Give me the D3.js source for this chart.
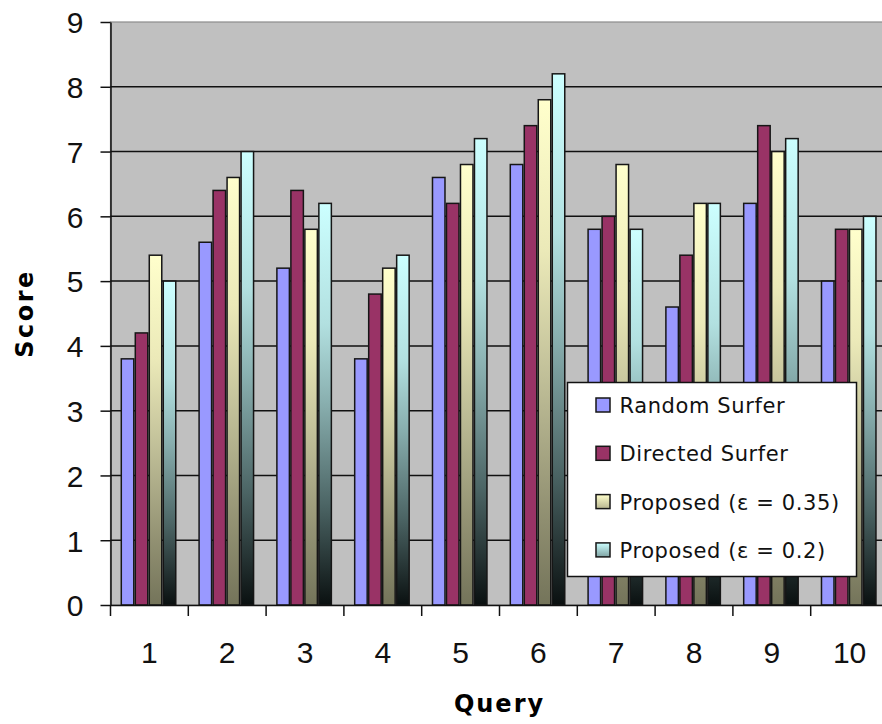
<!DOCTYPE html>
<html>
<head>
<meta charset="utf-8">
<script src="https://cdn.jsdelivr.net/npm/d3@7"></script>
<style>
  html, body { margin: 0; padding: 0; background: #fff; }
  svg { display: block; }
</style>
</head>
<body>
<svg id="chart" width="882" height="724"></svg>
<script>
// Scores per query for each ranking method
const queries = ["1", "2", "3", "4", "5", "6", "7", "8", "9", "10"];
const seriesNames = ["Random Surfer", "Directed Surfer", "Proposed (ε = 0.35)", "Proposed (ε = 0.2)"];
const randomSurfer   = [3.8, 5.6, 5.2, 3.8, 6.6, 6.8, 5.8, 4.6, 6.2, 5.0];
const directedSurfer = [4.2, 6.4, 6.4, 4.8, 6.2, 7.4, 6.0, 5.4, 7.4, 5.8];
const proposed035    = [5.4, 6.6, 5.8, 5.2, 6.8, 7.8, 6.8, 6.2, 7.0, 5.8];
const proposed02     = [5.0, 7.0, 6.2, 5.4, 7.2, 8.2, 5.8, 6.2, 7.2, 6.0];
const yTicks = [0, 1, 2, 3, 4, 5, 6, 7, 8, 9];

const seriesValues = [randomSurfer, directedSurfer, proposed035, proposed02];
const table = queries.map((q, i) => ({
  query: q,
  values: seriesNames.map((s, k) => ({ series: s, key: k, value: seriesValues[k][i] }))
}));

const svg = d3.select("#chart");
const plot = { left: 110.5, right: 888.5, top: 22, bottom: 605 };

const x0 = d3.scaleBand().domain(queries).range([plot.left, plot.right]).padding(0);
const x1 = d3.scaleBand().domain(d3.range(seriesNames.length))
  .range([0, x0.bandwidth()]).paddingInner(0).paddingOuter(0.78).align(0.46);
const y = d3.scaleLinear().domain([0, 9]).range([plot.bottom, plot.top]);

// Fill definitions: two solid fills and two vertical shaded fills
const defs = svg.append("defs");
function shade(id, stops) {
  const g = defs.append("linearGradient").attr("id", id)
    .attr("x1", 0).attr("y1", 0).attr("x2", 0).attr("y2", 1);
  stops.forEach(([o, c]) => g.append("stop").attr("offset", o).attr("stop-color", c));
}
shade("gYellow", [[0, "#FFFFCC"], [0.3, "#EBE9B8"], [0.55, "#C0BF98"], [0.8, "#949374"], [1, "#74745A"]]);
shade("gCyan", [[0, "#CCFFFF"], [0.3, "#B2E0E0"], [0.5, "#88AEAE"], [0.75, "#4C6565"], [1, "#0A1010"]]);
shade("gYellowKey", [[0, "#FFFFCC"], [1, "#B8B690"]]);
shade("gCyanKey", [[0, "#CCFFFF"], [1, "#7FA3A3"]]);
const fills = ["#9999FF", "#993366", "url(#gYellow)", "url(#gCyan)"];
const keyFills = ["#9999FF", "#993366", "url(#gYellowKey)", "url(#gCyanKey)"];

// Plot area
svg.append("rect")
  .attr("x", plot.left).attr("y", plot.top)
  .attr("width", plot.right - plot.left).attr("height", plot.bottom - plot.top)
  .attr("fill", "#C0C0C0").attr("stroke", "#8c8c8c").attr("stroke-width", 1.2);

// Gridlines
svg.append("g").selectAll("line")
  .data(yTicks.filter(t => t > 0 && t < 9))
  .join("line")
  .attr("x1", plot.left).attr("x2", plot.right)
  .attr("y1", d => y(d)).attr("y2", d => y(d))
  .attr("stroke", "#111").attr("stroke-width", 1.5);

// Bars
const sw = 1.5;
const groups = svg.append("g").selectAll("g")
  .data(table).join("g")
  .attr("transform", d => `translate(${x0(d.query)},0)`);
groups.selectAll("rect")
  .data(d => d.values).join("rect")
  .attr("x", d => x1(d.key) + sw / 2)
  .attr("width", x1.bandwidth() - sw)
  .attr("y", d => y(d.value))
  .attr("height", d => y(0) - y(d.value))
  .attr("fill", d => fills[d.key])
  .attr("stroke", "#161616").attr("stroke-width", sw);

// Axes
const font = "'Liberation Sans', Arial, sans-serif";
const yAxis = svg.append("g").attr("transform", `translate(${plot.left},0)`)
  .call(d3.axisLeft(y).tickValues(yTicks).tickFormat(d3.format("d")).tickSize(10).tickSizeOuter(0));
yAxis.select(".domain").attr("stroke", "#111").attr("stroke-width", 1.5);
yAxis.selectAll(".tick line").attr("stroke", "#111").attr("stroke-width", 1.5);
yAxis.selectAll(".tick text")
  .attr("x", -27).attr("dy", "0.36em")
  .style("font-family", font).style("font-size", "30px").attr("fill", "#111");

const xAxis = svg.append("g").attr("transform", `translate(0,${plot.bottom})`)
  .call(d3.axisBottom(x0).tickSize(0).tickSizeOuter(0));
xAxis.select(".domain").attr("stroke", "#111").attr("stroke-width", 1.5);
xAxis.selectAll(".tick line").remove();
xAxis.selectAll(".tick text")
  .attr("y", 58).attr("dy", 0)
  .style("font-family", font).style("font-size", "30px").attr("fill", "#111");
// Category separator ticks
svg.append("g").selectAll("line")
  .data(queries.slice(1))
  .join("line")
  .attr("x1", d => x0(d)).attr("x2", d => x0(d))
  .attr("y1", plot.bottom).attr("y2", plot.bottom + 11)
  .attr("stroke", "#111").attr("stroke-width", 1.5);
svg.append("line")
  .attr("x1", plot.left).attr("x2", plot.left)
  .attr("y1", plot.bottom).attr("y2", plot.bottom + 11)
  .attr("stroke", "#111").attr("stroke-width", 1.5);

// Axis titles
const titleFont = "'DejaVu Sans', Verdana, sans-serif";
svg.append("text")
  .attr("x", (plot.left + plot.right) / 2).attr("y", 712)
  .attr("text-anchor", "middle")
  .style("font-family", titleFont).style("font-size", "24px").style("font-weight", "bold")
  .style("letter-spacing", "2px")
  .text("Query");
svg.append("text")
  .attr("transform", `translate(33,${(plot.top + plot.bottom) / 2}) rotate(-90)`)
  .attr("text-anchor", "middle")
  .style("font-family", titleFont).style("font-size", "24px").style("font-weight", "bold")
  .style("letter-spacing", "2.5px")
  .text("Score");

// Legend
const legend = svg.append("g").attr("transform", "translate(567.5,382.5)");
legend.append("rect")
  .attr("width", 289).attr("height", 194)
  .attr("fill", "#fff").attr("stroke", "#111").attr("stroke-width", 1.5);
const rows = legend.selectAll("g.row")
  .data(seriesNames).join("g").attr("class", "row")
  .attr("transform", (d, i) => `translate(0,${23 + i * 48.3})`);
rows.append("rect")
  .attr("x", 28.5).attr("y", -7.5).attr("width", 14).attr("height", 14)
  .attr("fill", (d, i) => keyFills[i])
  .attr("stroke", "#161616").attr("stroke-width", 1.5);
rows.append("text")
  .attr("x", 52).attr("y", 7.5)
  .style("font-family", titleFont).style("font-size", "21px")
  .style("letter-spacing", "0.6px").attr("fill", "#111")
  .text(d => d);
</script>
</body>
</html>
